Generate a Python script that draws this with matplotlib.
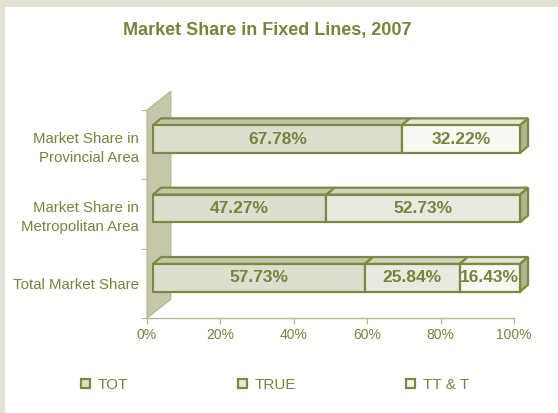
import matplotlib.pyplot as plt
import matplotlib.transforms as mtransforms
from matplotlib.patches import Polygon, Rectangle, Patch

plt.rcParams['font.family'] = ['Liberation Sans', 'DejaVu Sans']

# data (bottom to top)
categories = ['Total Market Share', 'Market Share in\nMetropolitan Area', 'Market Share in\nProvincial Area']
series = ['TOT', 'TRUE', 'TT & T']
tot = [57.73, 47.27, 67.78]
true_ = [25.84, 52.73, 0]
ttt = [16.43, 0, 32.22]
ticks = [0, 20, 40, 60, 80, 100]
tick_labels = ['0%', '20%', '40%', '60%', '80%', '100%']

olive = '#76843c'
edge = '#7b8a3e'
face_cols = ['#dedecf', '#e9e9e0', '#f9f9f4']
top_cols = ['#c5c5ab', '#d2d2c0', '#e4e4d6']
side_col = '#b3b393'

fig = plt.figure(figsize=(5.58, 4.13), dpi=100)
fig.patch.set_facecolor('#e3e1d1')
fig.patches.append(Rectangle((5 / 558, 0), 1, 1 - 7 / 413, transform=fig.transFigure,
                             facecolor='white', edgecolor='none', zorder=-1))

ax = fig.add_axes([147 / 558, 95 / 413, 367 / 558, 208 / 413])
ax.set_facecolor('none')
ax.set_xlim(0, 100)
ax.set_ylim(-0.5, 2.5)

# back wall (depth drawn in data units)
wall = Polygon([(0, -0.5), (0, 2.5), (6.5, 2.77), (6.5, -0.23)], closed=True,
               facecolor='#c6c6aa', edgecolor='#b0b48c', lw=0.8, clip_on=False, zorder=1)
ax.add_patch(wall)

shift = ax.transData + mtransforms.ScaledTranslation(0.06, 0.055, fig.dpi_scale_trans)
h = 0.4
DX, DY = 2.2, 0.1
y = list(range(len(categories)))
left = [0] * len(categories)
all_vals = [tot, true_, ttt]
for s, vals in enumerate(all_vals):
    for i, v in enumerate(vals):
        if v <= 0:
            continue
        x0 = left[i]
        x1 = x0 + v
        bar = ax.barh(y[i], v, left=x0, height=h, color=face_cols[s], edgecolor=edge,
                      lw=1.6, zorder=3, clip_on=False)
        bar[0].set_transform(shift)
        top = Polygon([(x0, y[i] + h / 2), (x0 + DX, y[i] + h / 2 + DY),
                       (x1 + DX, y[i] + h / 2 + DY), (x1, y[i] + h / 2)], closed=True,
                      facecolor=top_cols[s], edgecolor=edge, lw=1.6, zorder=2,
                      clip_on=False, transform=shift)
        ax.add_patch(top)
        ax.text((x0 + x1) / 2, y[i], f'{v:.2f}%', ha='center', va='center',
                fontsize=12.5, fontweight='bold', color=olive, zorder=5, transform=shift)
        left[i] = x1
for i in range(len(categories)):
    x1 = left[i]
    side = Polygon([(x1, y[i] - h / 2), (x1, y[i] + h / 2), (x1 + DX, y[i] + h / 2 + DY),
                    (x1 + DX, y[i] - h / 2 + DY)], closed=True, facecolor=side_col,
                   edgecolor=edge, lw=1.6, zorder=2, clip_on=False, transform=shift)
    ax.add_patch(side)

for sp in ['top', 'right', 'left']:
    ax.spines[sp].set_visible(False)
ax.spines['bottom'].set_color('#b4b98e')
ax.spines['bottom'].set_linewidth(1)
ax.set_xticks(ticks)
ax.set_xticklabels(tick_labels, fontsize=10, color=olive)
ax.tick_params(axis='x', colors='#b4b98e', length=4, labelcolor=olive, pad=3)
ax.set_yticks([-0.5, 0.5, 1.5, 2.5])
ax.set_yticklabels([])
ax.set_yticks(y, minor=True)
ax.set_yticklabels(categories, minor=True, fontsize=10.8, color=olive, ha='right')
for lab in ax.get_yticklabels(minor=True):
    lab.set_linespacing(1.4)
ax.tick_params(axis='y', which='major', colors='#b4b98e', length=4)
ax.tick_params(axis='y', which='minor', length=0, pad=6, labelcolor=olive)

fig.text(267 / 558, 1 - 30 / 413, 'Market Share in Fixed Lines, 2007', ha='center', va='center',
         fontsize=13, fontweight='bold', color=olive)

handles = [Patch(facecolor=face_cols[k], edgecolor=edge, lw=1.6) for k in range(3)]
fig.legend(handles, series, ncol=3, loc='center', bbox_to_anchor=(275 / 558, 1 - 385 / 413),
           frameon=False, fontsize=11, labelcolor=olive, handlelength=0.6, handleheight=0.6,
           handletextpad=0.5, columnspacing=7.2)

fig.savefig('out.png', dpi=100)
